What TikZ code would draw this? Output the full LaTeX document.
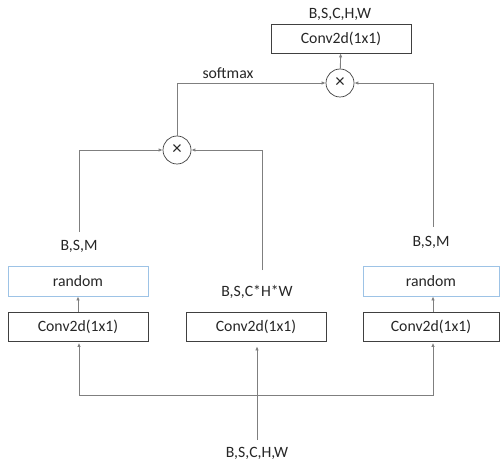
\documentclass[tikz,border=0pt]{standalone}
\usepackage{fontspec}
\setmainfont{Carlito}
\usetikzlibrary{arrows.meta}
\definecolor{ln}{HTML}{7F7F7F}
\definecolor{bx}{HTML}{404040}
\definecolor{bl}{HTML}{9DC3E6}
\definecolor{tx}{HTML}{262626}
\begin{document}
\begin{tikzpicture}[x=1bp,y=-1bp,
  font=\fontsize{15.8}{18}\selectfont,
  box/.style={draw=bx,line width=0.8bp,minimum width=140bp,minimum height=29bp,inner sep=0pt,text=tx},
  rbox/.style={draw=bl,line width=0.9bp,minimum width=140bp,minimum height=30bp,inner sep=0pt,text=tx},
  mul/.style={circle,draw=bx,line width=0.7bp,minimum size=28bp,inner sep=0pt,text=tx,font=\fontsize{19}{19}\selectfont},
  arr/.style={draw=ln,line width=0.9bp,-{Latex[length=4bp,width=3.5bp]}},
  lbl/.style={inner sep=0pt,text=tx}]
\useasboundingbox (0,0) rectangle (500,464);
% top
\node[box] (convT) at (341,38.5) {Conv2d(1x1)};
\node[lbl] (labT) at (340,14) {B,S,C,H,W};
\node[mul] (m2) at (340,83) {×};
\node[mul] (m1) at (177,150) {×};
% bottom row
\node[box] (convL) at (78,326.5) {Conv2d(1x1)};
\node[box] (convM) at (256,326.5) {Conv2d(1x1)};
\node[box,minimum width=136bp] (convR) at (431,326.5) {Conv2d(1x1)};
\node[rbox] (randL) at (78,281) {random};
\node[rbox,minimum width=136bp] (randR) at (431,281) {random};
% labels
\node[lbl] (labL) at (79,246) {B,S,M};
\node[lbl] (labR) at (431,242) {B,S,M};
\node[lbl] (labM) at (257,292) {B,S,C*H*W};
\node[lbl] (labIn) at (257,453) {B,S,C,H,W};
\node[lbl] (sm) at (228,73) {softmax};
% coordinates
\coordinate (cL) at (79,232);
\coordinate (cM) at (262,270);
\coordinate (cR) at (433,227);
\coordinate (in) at (257,440);
\coordinate (j) at (257,395);
% connectors
\draw[arr] (m2) -- (convT);
\draw[arr] (m1.north) |- (m2.west);
\draw[arr] (cL) |- (m1.west);
\draw[arr] (cM) |- (m1.east);
\draw[arr] (cR) |- (m2.east);
\draw[arr] (convL) -- (randL);
\draw[arr] (convR.north -| cR) -- (randR.south -| cR);
\draw[arr,shorten >=5bp] (in) -- (convM.south -| in);
\draw[arr,shorten >=1.5bp] (j) -| (convL.south -| cL);
\draw[arr,shorten >=1.5bp] (j) -| (convR.south -| cR);
\end{tikzpicture}
\end{document}
